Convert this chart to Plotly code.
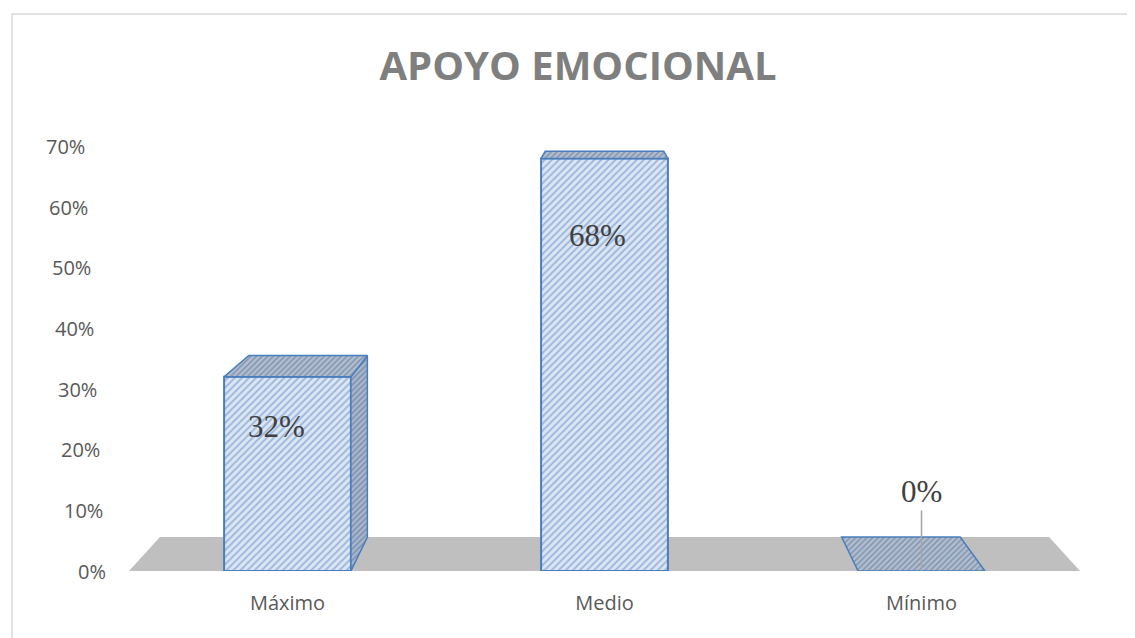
import plotly.graph_objects as go

# ---- data ----
categories = ["Máximo", "Medio", "Mínimo"]
values = [0.32, 0.68, 0.0]
value_labels = ["32%", "68%", "0%"]
y_tick_values = [0.0, 0.1, 0.2, 0.3, 0.4, 0.5, 0.6, 0.7]
y_tick_labels = ["0%", "10%", "20%", "30%", "40%", "50%", "60%", "70%"]
title_text = "APOYO EMOCIONAL"

# ---- style ----
BAR_W = 0.4
DEPTH = 0.065              # perspective depth fraction
VX, VY = 1.0, 0.8616       # vanishing point (data coords)
label_xshift = [-11, -7, 0]
label_yshift = [-50, -77, 80]
FRONT_LINE = "#4a7dbb"

OFF = 8                    # page body margin
W, H = 1135 - OFF, 638 - OFF
ML, MT = 129 - OFF, 116 - OFF
MR = W - (1080 - OFF)
MB = H - (571 - OFF)
PW, PH = W - ML - MR, H - MT - MB
Y_MAX = 0.75


def back(x, y):
    return x + DEPTH * (VX - x), y + DEPTH * (VY - y)


xs = list(range(len(categories)))
fig = go.Figure()

# side / top faces (scatter fills with hatching)
for i, v in zip(xs, values):
    xl, xr = i - BAR_W / 2, i + BAR_W / 2
    if xr < VX:
        p = [(xr, v), (xr, 0), back(xr, 0), back(xr, v), (xr, v)]
    elif xl > VX:
        p = [(xl, v), (xl, 0), back(xl, 0), back(xl, v), (xl, v)]
    else:
        p = None
    if p and v > 0:
        fig.add_trace(go.Scatter(
            x=[q[0] for q in p], y=[q[1] for q in p], mode="lines", fill="toself",
            line=dict(color=FRONT_LINE, width=1.5),
            fillcolor="#aab8cc",
            fillpattern=dict(shape="/", fgcolor="#4f6d96", bgcolor="#aab8cc", size=4, solidity=0.45),
            hoverinfo="skip", showlegend=False))
    p = [(xl, v), (xr, v), back(xr, v), back(xl, v), (xl, v)]
    fig.add_trace(go.Scatter(
        x=[q[0] for q in p], y=[q[1] for q in p], mode="lines", fill="toself",
        line=dict(color=FRONT_LINE, width=1.5),
        fillcolor="#b3bfd0",
        fillpattern=dict(shape="/", fgcolor="#566f92", bgcolor="#b3bfd0", size=4, solidity=0.45),
        hoverinfo="skip", showlegend=False))

# front faces
fig.add_trace(go.Bar(
    x=xs, y=values, width=BAR_W,
    marker=dict(color="#dce6f4", line=dict(color=FRONT_LINE, width=2),
                pattern=dict(shape="/", fgcolor="#5e8ac6", bgcolor="#dce6f4", size=5, solidity=0.4)),
    hoverinfo="skip", showlegend=False))

# floor
fl = [(-0.5, 0), (2.5, 0), back(2.5, 0), back(-0.5, 0)]
floor_path = "M " + " L ".join(f"{x},{y}" for x, y in fl) + " Z"

shapes = [
    dict(type="path", path=floor_path, xref="x", yref="y", fillcolor="#bfbfbf",
         line=dict(width=0), layer="below"),
    dict(type="rect", xref="paper", yref="paper",
         x0=(12 - OFF - ML) / PW, x1=(W + 10 - ML) / PW,
         y0=-(H + 10 - (H - MB)) / PH, y1=((H - MB) - (14 - OFF)) / PH,
         line=dict(color="#d9d9d9", width=1.5), fillcolor="rgba(0,0,0,0)", layer="below"),
]

# leader line for zero label
for i, v in zip(xs, values):
    if v == 0:
        shapes.append(dict(type="line", xref="x", yref="y", x0=i, x1=i,
                           y0=v, y1=v + 0.1, line=dict(color="#a6a6a6", width=1.5)))

annotations = []
for i, (v, t) in enumerate(zip(values, value_labels)):
    annotations.append(dict(x=xs[i], y=v, xref="x", yref="y", text=t, showarrow=False,
                            xshift=label_xshift[i], yshift=label_yshift[i],
                            font=dict(family="Liberation Serif", size=31, color="#404040")))

for v, t in zip(y_tick_values, y_tick_labels):
    annotations.append(dict(x=0, y=v, xref="paper", yref="y", text=t, showarrow=False,
                            xanchor="right", xshift=(106 - 30 * v) - 129 + 2,
                            font=dict(family="Open Sans", size=20, color="#595959")))

fig.update_layout(
    width=W, height=H,
    margin=dict(l=ML, r=MR, t=MT, b=MB),
    paper_bgcolor="white", plot_bgcolor="white",
    title=dict(text=title_text, x=(578 - OFF) / W, xanchor="center",
               y=1 - (66 - OFF) / H, yanchor="middle",
               font=dict(family="Open Sans", size=40, color="#7f7f7f", weight="bold")),
    xaxis=dict(range=[-0.5, 2.5], tickvals=xs, ticktext=categories, showgrid=False,
               zeroline=False, showline=False, ticks="outside", ticklen=14,
               tickcolor="rgba(0,0,0,0)",
               tickfont=dict(family="Open Sans", size=20, color="#595959")),
    yaxis=dict(range=[0, Y_MAX], showgrid=False, zeroline=False, showline=False,
               showticklabels=False),
    shapes=shapes, annotations=annotations, showlegend=False,
)

fig.write_html("out.html")
